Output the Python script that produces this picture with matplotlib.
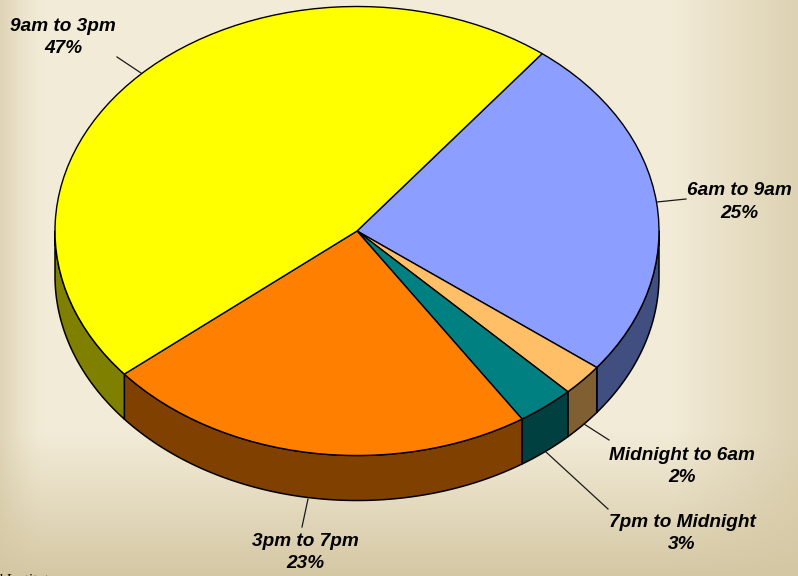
import numpy as np
import matplotlib
matplotlib.use("Agg")
import matplotlib.pyplot as plt

W, H = 798, 576
CX, CY, RX, RY, DEPTH = 357.0, 231.0, 302.0, 224.5, 45.0

# Slices, clockwise from the yellow / blue boundary
categories = ["6am to 9am", "Midnight to 6am", "7pm to Midnight", "3pm to 7pm", "9am to 3pm"]
shares = [24.9, 2.3, 3.1, 23.2, 46.5]
pct_labels = ["25%", "2%", "3%", "23%", "47%"]
top_colors = ["#8C9EFF", "#FFBF66", "#008080", "#FF8000", "#FFFF00"]
side_colors = ["#404F80", "#806033", "#004040", "#804000", "#808000"]
start_angle = 52.2

# Label centres and leader lines in pixels from the top-left
label_xy = [(739, 202), (682, 466.5), (682, 533.5), (305, 552.5), (63, 37.5)]
leaders = [((657, 202), (686, 199)), ((584, 424), (609, 440)), ((546, 452), (608, 509)),
           ((308, 499), (302, 527)), ((141, 73), (117, 57))]
source_text = "d Institute"

fig = plt.figure(figsize=(W / 100, H / 100), dpi=100)
ax = fig.add_axes([0, 0, 1, 1])

# Background
yy, xx = np.mgrid[0:H, 0:W]
light = np.array([242, 235, 215]) / 255
dark = np.array([212, 199, 163]) / 255
t_left = np.clip(1 - xx / 45, 0, 1) ** 1.5 * 0.65
t_right = np.clip((xx - 670) / 128, 0, 1) * 0.7
t_bottom = np.clip((yy - 430) / 146, 0, 1) ** 1.1
t = 1 - (1 - t_left) * (1 - t_right) * (1 - t_bottom)
bg = light[None, None, :] * (1 - t[..., None]) + dark[None, None, :] * t[..., None]

xlim = (-CX / RX, (W - CX) / RX)
ylim = ((CY - H) / RY, CY / RY)
ax.imshow(bg, extent=(*xlim, *ylim), aspect="auto", origin="upper", zorder=0)

d = DEPTH / RY

def to_data(p):
    return (p[0] - CX) / RX, (CY - p[1]) / RY

# Side walls, from the slice angles
fracs = np.array(shares) / sum(shares)
ends = start_angle - np.cumsum(fracs) * 360
starts = np.r_[start_angle, ends[:-1]]
for a0, a1, c in zip(starts, ends, side_colors):
    # only the front half (angles between -180 and 0, modulo 360) is visible
    for off in (0, 360):
        h = min(a0 + off, 0)
        l = max(a1 + off, -180)
        if h > l:
            th = np.radians(np.linspace(h, l, 120))
            x = np.cos(th)
            y = np.sin(th)
            ax.fill(np.r_[x, x[::-1]], np.r_[y, y[::-1] - d], facecolor=c,
                    edgecolor="black", linewidth=1.1, zorder=1, joinstyle="round")

# Top face
ax.pie(shares, colors=top_colors, startangle=start_angle, counterclock=False, radius=1,
       center=(0, 0), wedgeprops=dict(edgecolor="black", linewidth=1.0, zorder=2),
       normalize=True)

ax.set_aspect("auto")
ax.set_xlim(*xlim)
ax.set_ylim(*ylim)
ax.axis("off")

# Leaders and labels
for (p0, p1) in leaders:
    a, b = to_data(p0), to_data(p1)
    ax.plot([a[0], b[0]], [a[1], b[1]], color="#1a1a1a", lw=0.9, zorder=4)

for cat, pct, xy in zip(categories, pct_labels, label_xy):
    x, y = to_data(xy)
    ax.text(x, y, f"{cat}\n{pct}", ha="center", va="center", family="Liberation Sans",
            fontweight="bold", fontstyle="italic", fontsize=13.7, color="black",
            linespacing=1.43, zorder=5)

x, y = to_data((-5, 573.5))
ax.text(x, y, source_text, ha="left", va="top", family="Liberation Serif",
        fontstyle="italic", fontsize=10.5, color="black", zorder=5, clip_on=False)

fig.savefig("out.png", dpi=100)
